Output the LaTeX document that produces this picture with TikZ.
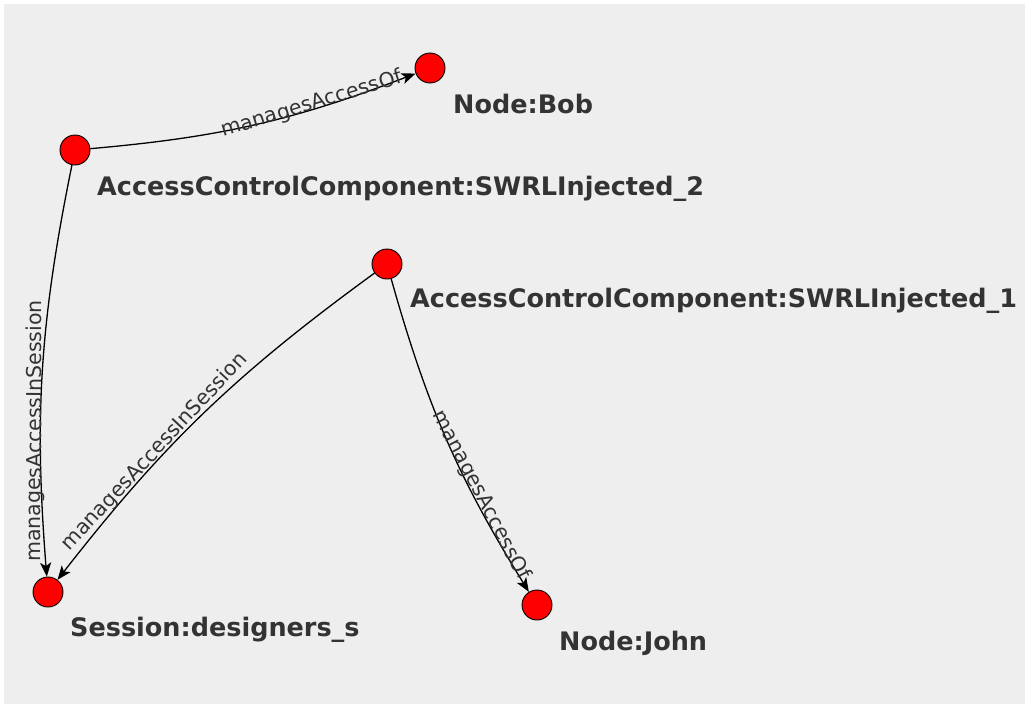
\documentclass[tikz,border=0pt]{standalone}
\usepackage{fontspec}
\setmainfont{DejaVu Sans}
\usetikzlibrary{arrows.meta}
\definecolor{bg}{HTML}{EEEEEE}
\definecolor{txt}{HTML}{333333}
\begin{document}
\begin{tikzpicture}[x=1pt,y=1pt,
  vert/.style={circle,fill=red,draw=black,line width=0.9pt,minimum size=30pt,inner sep=0pt},
  vlabel/.style={anchor=base west,inner sep=0pt,text=txt,font=\fontsize{25.5}{30}\selectfont\bfseries},
  edge/.style={line width=1.3pt,-{Stealth[length=14pt,width=11pt,inset=3.5pt]},bend right=8},
  elabel/.style={sloped,pos=0.67,anchor=south,inner sep=0pt,outer ysep=-5pt,text=txt,font=\fontsize{20.5}{24}\selectfont}]
\fill[white] (0,0) rectangle (1025,-704);
\fill[bg] (4,-4) rectangle (1025,-704);
\useasboundingbox (0,0) rectangle (1025,-704);
\node[vert] (bob) at (430,-68) {};
\node[vert] (swrl2) at (75,-150) {};
\node[vert] (swrl1) at (387,-264) {};
\node[vert] (sess) at (48,-592) {};
\node[vert] (john) at (537,-605) {};
\node[vlabel] (bobl) at (453,-113) {Node:Bob};
\node[vlabel] (swrl2l) at (97,-195) {AccessControlComponent:SWRLInjected\_2};
\node[vlabel] (swrl1l) at (410,-307) {AccessControlComponent:SWRLInjected\_1};
\node[vlabel] (sessl) at (70,-636) {Session:designers\_s};
\node[vlabel] (johnl) at (559,-650) {Node:John};
\draw[edge] (swrl2) to node[elabel,pos=0.69] {managesAccessOf} (bob);
\draw[edge] (swrl2) to node[elabel,pos=0.66] {managesAccessInSession} (sess);
\draw[edge] (swrl1) to node[elabel,pos=0.65,outer ysep=-2pt] {managesAccessInSession} (sess);
\draw[edge] (swrl1) to node[elabel,pos=0.7,outer ysep=-3pt] {managesAccessOf} (john);
\end{tikzpicture}
\end{document}
